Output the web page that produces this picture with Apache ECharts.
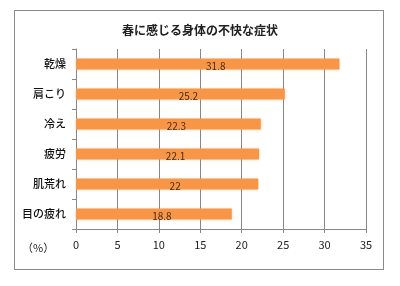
<!DOCTYPE html>
<html>
<head>
<meta charset="utf-8">
<script src="https://cdn.jsdelivr.net/npm/echarts@6/dist/echarts.min.js"></script>
<style>
  html, body { margin: 0; padding: 0; background: #fff; }
  #frame { position: absolute; left: 14px; top: 10px; width: 368px; height: 258px; border: 1px solid #8a8a8a; }
  #chart { position: absolute; left: 0; top: 0; width: 400px; height: 286px; }
</style>
</head>
<body>
<div id="frame"></div>
<div id="chart"></div>
<script>
const titleText = '春に感じる身体の不快な症状';
const categories = ['乾燥', '肩こり', '冷え', '疲労', '肌荒れ', '目の疲れ'];
const values = [31.8, 25.2, 22.3, 22.1, 22, 18.8];
const unitLabel = '（%）';

const font = '"Noto Sans CJK JP", sans-serif';
const chart = echarts.init(document.getElementById('chart'), null, { renderer: 'canvas' });

chart.setOption({
  animation: false,
  title: {
    text: titleText,
    left: 'center',
    top: 19,
    textStyle: { fontFamily: font, fontSize: 12, fontWeight: 'bold', color: '#222' }
  },
  grid: { left: 76, right: 34, top: 49, bottom: 57, containLabel: false },
  xAxis: {
    type: 'value',
    min: 0,
    max: 35,
    interval: 5,
    axisLine: { show: true, lineStyle: { color: '#868686' } },
    axisTick: { show: true, length: 4, lineStyle: { color: '#868686' } },
    axisLabel: { fontFamily: font, fontSize: 11, color: '#222', margin: 10 },
    splitLine: { show: true, lineStyle: { color: '#868686' } }
  },
  yAxis: {
    type: 'category',
    data: categories,
    inverse: true,
    axisLine: { show: true, lineStyle: { color: '#868686' } },
    axisTick: { show: true, length: 4, lineStyle: { color: '#868686' } },
    axisLabel: { fontFamily: font, fontSize: 11, color: '#111', fontWeight: 500, margin: 10 }
  },
  graphic: [{
    type: 'text',
    left: 22,
    top: 242,
    style: { text: unitLabel, fontFamily: font, fontSize: 11, fill: '#222' }
  }],
  series: [{
    type: 'bar',
    data: values,
    barWidth: 11,
    itemStyle: {
      color: '#F79646',
      shadowColor: 'rgba(247,150,70,0.45)',
      shadowBlur: 3
    },
    label: {
      show: true,
      position: 'inside',
      offset: [8, 2],
      fontFamily: font,
      fontSize: 10,
      color: '#4a2a10'
    }
  }]
});
</script>
</body>
</html>
